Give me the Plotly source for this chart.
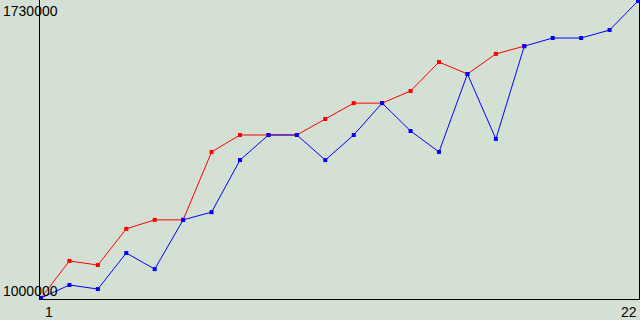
import plotly.graph_objects as go

x_vals = list(range(1, 23))
red_vals = [1000000, 1091000, 1081000, 1170000, 1192000, 1192000, 1359000, 1400700,
            1400700, 1400700, 1440000, 1479000, 1479000, 1508800, 1580000, 1550600,
            1600000, 1619000]
blue_vals = [1000000, 1032000, 1022000, 1110600, 1071000, 1192000, 1211000, 1339000,
             1400700, 1400700, 1339000, 1400700, 1479000, 1410500, 1359000, 1550600,
             1391000, 1619000, 1639000, 1639000, 1658600, 1730000]
y_labels = ["1000000", "1730000"]
x_labels = ["1", "22"]
y_min, y_max = 1000000, 1730000
x_min, x_max = 1, 22

BG = "#d4e0d4"
fig = go.Figure()
fig.add_trace(go.Scatter(x=x_vals[:len(red_vals)], y=red_vals, mode="lines+markers",
                         line=dict(color="#ff0000", width=1),
                         marker=dict(color="#ff0000", size=4, symbol="square")))
fig.add_trace(go.Scatter(x=x_vals, y=blue_vals, mode="lines+markers",
                         line=dict(color="#0000ff", width=1),
                         marker=dict(color="#0000ff", size=4, symbol="square")))

px_x = (x_max - x_min) / 597.0
px_y = (y_max - y_min) / 297.0
fig.update_layout(
    width=640, height=320, margin=dict(l=40, r=1, t=0, b=21),
    paper_bgcolor=BG, plot_bgcolor=BG, showlegend=False,
    xaxis=dict(range=[x_min - px_x, x_max + px_x], showgrid=False, zeroline=False,
               showticklabels=False, ticks="", showline=True, linecolor="black",
               linewidth=1, mirror=True),
    yaxis=dict(range=[y_min - px_y, y_max + px_y], showgrid=False, zeroline=False,
               showticklabels=False, ticks="", showline=True, linecolor="black",
               linewidth=1, mirror=True),
    font=dict(family="Liberation Sans", size=14, color="black"),
)
fig.add_annotation(text=y_labels[1], x=-39/599, xref="paper", xanchor="left",
                   y=y_max, yref="y", yanchor="top", yshift=0, showarrow=False)
fig.add_annotation(text=y_labels[0], x=-39/599, xref="paper", xanchor="left",
                   y=y_min, yref="y", yanchor="bottom", yshift=-3, showarrow=False)
fig.add_annotation(text=x_labels[0], x=x_min, xref="x", xanchor="left", xshift=2,
                   y=0, yref="paper", yanchor="top", yshift=-3, showarrow=False)
fig.add_annotation(text=x_labels[1], x=1, xref="paper", xanchor="right",
                   y=0, yref="paper", yanchor="top", yshift=-3, showarrow=False)
fig.write_html("out.html")
